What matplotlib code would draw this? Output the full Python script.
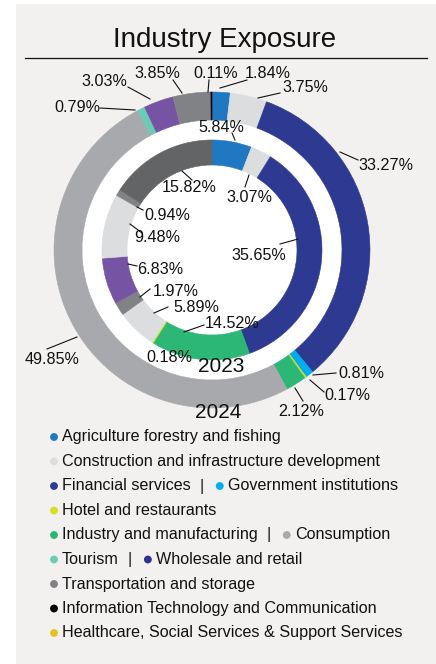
import matplotlib.pyplot as plt
from matplotlib.patches import Rectangle, Circle

plt.rcParams['font.family'] = ['Liberation Sans', 'DejaVu Sans']

# 2024 exposure (outer ring), clockwise from 12 o'clock
values_2024 = [1.84, 3.75, 33.27, 0.81, 0.17, 2.12, 49.85, 0.79, 3.03, 3.85, 0.11]
colors_2024 = ['#1f78c1', '#dcdddf', '#2e3a92', '#00aeef', '#d7df23', '#2db777',
               '#a7a9ac', '#6ccbb5', '#7753a3', '#808285', '#000000']

# 2023 exposure (inner ring), clockwise from 12 o'clock
values_2023 = [5.84, 3.07, 35.65, 14.52, 0.18, 5.89, 1.97, 6.83, 9.48, 0.94, 15.82]
colors_2023 = ['#1f78c1', '#dcdddf', '#2e3a92', '#2db777', '#d7df23', '#dcdddf',
               '#808285', '#7753a3', '#dcdddf', '#808285', '#636466']

# legend rows: (name, dot colour), several entries can share a row
legend_rows = [
    [('Agriculture forestry and fishing', '#1f78c1')],
    [('Construction and infrastructure development', '#dcdddf')],
    [('Financial services', '#2e3a92'), ('Government institutions', '#00aeef')],
    [('Hotel and restaurants', '#d7df23')],
    [('Industry and manufacturing', '#2db777'), ('Consumption', '#a7a9ac')],
    [('Tourism', '#6ccbb5'), ('Wholesale and retail', '#2e3192')],
    [('Transportation and storage', '#808285')],
    [('Information Technology and Communication', '#000000')],
    [('Healthcare, Social Services & Support Services', '#e8c020')],
]

W, H = 436, 664
CX, CY = 212, 250  # ring centre in pixel units (y from top)

# label layout: text centre, then leader line start/end (pixel units, y from top)
layout_2024 = [
    ((268, 73), (220, 88, 247, 80)),
    ((305, 88), (258, 98, 280, 93)),
    ((386, 165), (340, 152, 358, 160)),
    ((361, 373), (313, 375, 336, 373)),
    ((347, 396), (310, 380, 324, 392)),
    ((301, 412), (295, 388, 303, 401)),
    ((52, 360), (77, 337, 47, 349)),
    ((77, 107), (100, 108, 135, 110)),
    ((104, 82), (128, 87, 150, 99)),
    ((157, 73), (173, 80, 182, 93)),
    ((216, 73), (209, 80, 208, 92)),
]
layout_2023 = [
    ((221, 127), (232, 133, 235, 140)),
    ((249, 197), (245, 187, 249, 175)),
    ((259, 255), (280, 244, 298, 239)),
    ((232, 323), (184, 332, 204, 325)),
    ((169, 358), None),
    ((196, 307), (154, 313, 168, 307)),
    ((176, 291), (140, 297, 150, 289)),
    ((160, 270), (128, 264, 137, 266)),
    ((157, 238), (130, 224, 142, 233)),
    ((167, 215), (137, 207, 143, 210)),
    ((189, 188), (182, 171, 192, 180)),
]


def fy(y):
    return H - y


fig = plt.figure(figsize=(W / 100, H / 100), dpi=100, facecolor='white')
ax = fig.add_axes([0, 0, 1, 1])

ax.add_patch(Rectangle((16, 0), W - 16, H - 4, facecolor='#f2f1ef', edgecolor='none', zorder=0))
ax.add_patch(Circle((CX, fy(CY)), 131, facecolor='white', edgecolor='none', zorder=1))

rings = [(values_2024, colors_2024, 158, 28), (values_2023, colors_2023, 110, 25)]
for vals, cols, r, w in rings:
    wedges, _ = ax.pie(vals, colors=cols, radius=r, center=(CX, fy(CY)),
                       startangle=90, counterclock=False,
                       wedgeprops=dict(width=w, linewidth=0.4))
    for wd in wedges:
        wd.set_edgecolor(wd.get_facecolor())
        wd.set_zorder(2)

for vals, layout in [(values_2024, layout_2024), (values_2023, layout_2023)]:
    for v, ((tx, ty), line) in zip(vals, layout):
        ax.text(tx, fy(ty), f'{v:.2f}%', ha='center', va='center',
                fontsize=11.6, color='#111111', zorder=4)
        if line:
            x0, y0, x1, y1 = line
            ax.plot([x0, x1], [fy(y0), fy(y1)], color='#111111', lw=0.8, zorder=3)

ax.text(221, fy(367), '2023', ha='center', va='center', fontsize=15, color='#111111', zorder=4)
ax.text(218, fy(412), '2024', ha='center', va='center', fontsize=15, color='#111111', zorder=4)

# title and rule
ax.text(225, fy(47), 'Industry Exposure', ha='center', va='baseline', fontsize=20, color='#111111')
ax.plot([25, 427], [fy(57.5), fy(57.5)], color='#111111', lw=0.9)

ax.set_xlim(0, W)
ax.set_ylim(0, H)
ax.set_aspect('auto')
ax.axis('off')

# legend drawn by hand so that entries can share a row
fig.canvas.draw()
renderer = fig.canvas.get_renderer()
to_data = ax.transData.inverted()
row_y = 437
for row in legend_rows:
    x = 54
    for k, (name, col) in enumerate(row):
        if k > 0:
            ax.text(x + 11, fy(row_y), '|', ha='center', va='center', fontsize=11.6, color='#111111')
            x = x + 29
        ax.scatter([x], [fy(row_y)], s=32, color=col, edgecolors='none', zorder=4)
        t = ax.text(x + 8, fy(row_y), name, ha='left', va='center', fontsize=11.6, color='#111111')
        bb = t.get_window_extent(renderer)
        x = to_data.transform((bb.x1, bb.y0))[0]
    row_y += 24.5

fig.savefig('out.png', dpi=100)
